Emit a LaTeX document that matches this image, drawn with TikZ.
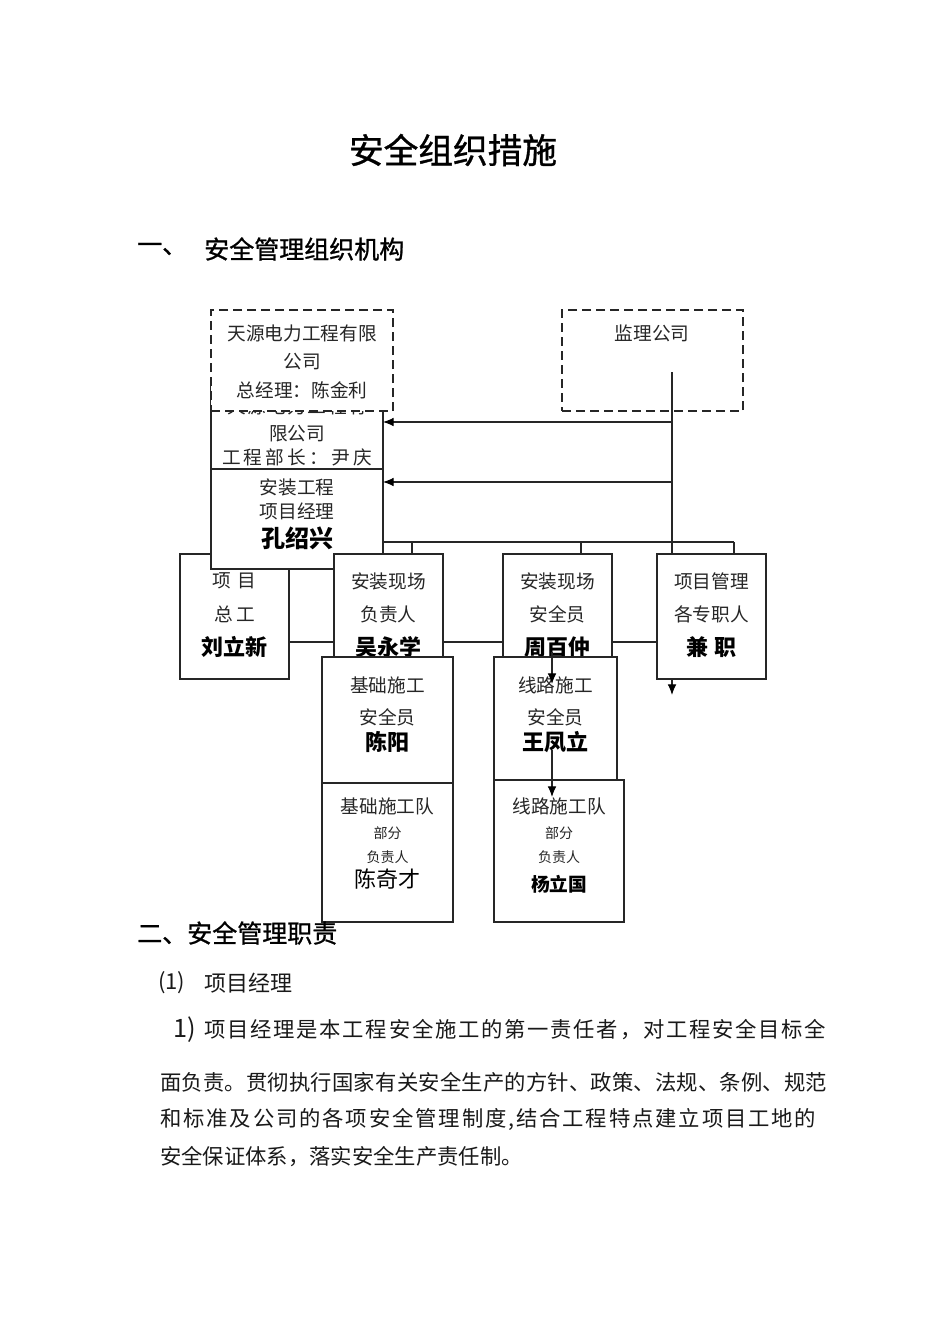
\documentclass[tikz,border=0pt]{standalone}
\usepackage{fontspec}
\usetikzlibrary{arrows.meta}
\IfFontExistsTF{FandolSong-Regular.otf}{\newfontfamily\song{FandolSong-Regular.otf}}{\newfontfamily\song{Noto Sans CJK SC}}
\newfontfamily\hei{Noto Sans CJK SC}
\newfontfamily\heib{Noto Sans CJK SC}[FakeBold=1]
\newcommand\fsz[1]{\fontsize{#1pt}{#1pt}\selectfont}
\newcommand\spread[2]{\makebox[#1][s]{\spreadfirst#2\relax}}
\def\spreadfirst#1{#1\spreadrest}
\def\spreadrest#1{\ifx\relax#1\else\hfil#1\expandafter\spreadrest\fi}
\begin{document}
\begin{tikzpicture}[x=0.75pt,y=-0.75pt,
  box/.style={draw=black!85,line width=0.8pt,fill=white,rectangle,inner sep=0pt,outer sep=0pt,anchor=north west},
  dbox/.style={box,line width=1.1pt,dash pattern=on 7pt off 3.5pt},
  txt/.style={inner sep=0pt,text=black!85,font=\song\fsz{14}},
  sm/.style={inner sep=0pt,text=black!85,font=\song\fsz{10.5}},
  nm/.style={inner sep=0pt,text=black,font=\hei\bfseries\fsz{16.5}},
  ttl/.style={inner sep=0pt,text=black,font=\heib\fsz{26}},
  hd/.style={inner sep=0pt,text=black,font=\heib\fsz{18.75},anchor=west},
  para/.style={inner sep=0pt,text=black!90,font=\song\fsz{16},anchor=west},
  conn/.style={draw=black!85,line width=0.8pt},
  arr/.style={conn,-{Latex[length=8pt,width=6.5pt,black]}}]
\fill[white] (0,0) rectangle (950,1344);
\useasboundingbox (0,0) rectangle (950,1344);

% titles
\node[ttl] (title) at (453,150) {安全组织措施};
\node[hd] (h1a) at (137,249) {一、};
\node[hd] (h1b) at (204,249) {安全管理组织机构};

% supervision company
\node[dbox,minimum width=135.75pt,minimum height=75.75pt] (JL) at (562,310) {};
\node[txt] (JLt) at (652,333) {监理公司};

% project chief engineer box (behind)
\node[box,minimum width=81.75pt,minimum height=93.75pt] (LX) at (180,554) {};

% engineering department box (partly hidden)
\node[box,minimum width=129pt,minimum height=63pt] (B2) at (211,385) {};
\node[txt] (B2a) at (297,406) {\spread{105pt}{天源电力工程有}};
\node[txt] (B2b) at (297,434) {限公司};
\node[txt] (B2c) at (297,457) {\spread{112.5pt}{工程部长：尹庆}};

% company box (dashed)
\node[dbox,minimum width=136.5pt,minimum height=75.75pt] (B1) at (211,310) {};
\node[txt] (B1a) at (302,333) {天源电力工程有限};
\node[txt] (B1b) at (302,362) {公司};
\node[txt] (B1c) at (302,390) {总经理：陈金利};

% project manager
\node[box,minimum width=129pt,minimum height=75pt] (B3) at (211,469) {};
\node[txt] (B3a) at (297,487) {安装工程};
\node[txt] (B3b) at (297,511) {项目经理};
\node[nm,font=\hei\bfseries\fsz{18}] (B3c) at (297,538) {孔绍兴};

% connectors from supervision company
\coordinate (jl0) at (672,372);
\coordinate (jl1) at (672,695);
\coordinate (a1) at (672,422);
\coordinate (a2) at (672,482);
\draw[arr] (a1) -- (a1 -| B2.east);
\draw[arr] (a2) -- (a2 -| B3.east);

% bus from project manager
\coordinate (bus) at (383,542);
\coordinate (bend) at (734,542);
\coordinate (d1) at (412,542);
\coordinate (d2) at (581,542);
\draw[conn] (bus) -- (bend);

% row 3 boxes
\node[box,minimum width=81.75pt,minimum height=93.75pt] (WY) at (334,554) {};
\node[box,minimum width=81.75pt,minimum height=93.75pt] (ZB) at (503,554) {};
\draw[arr] (jl0) -- (jl1);
\node[box,minimum width=81.75pt,minimum height=93.75pt] (XM) at (657,554) {};
\draw[conn] (d1) -- (d1 |- WY.north);
\draw[conn] (d2) -- (d2 |- ZB.north);
\draw[conn] (bend) -- (bend |- XM.north);

\coordinate (hl) at (0,642);
\draw[conn] (LX.east |- hl) -- (WY.west |- hl);
\draw[conn] (WY.east |- hl) -- (ZB.west |- hl);
\draw[conn] (ZB.east |- hl) -- (XM.west |- hl);

\node[txt] (LXa) at (234.5,581) {\spread{33pt}{项目}};
\node[txt] (LXb) at (234.5,614) {\spread{30.75pt}{总工}};
\node[nm] (LXc) at (234.5,647) {刘立新};

\node[txt] (WYa) at (388.5,581) {安装现场};
\node[txt] (WYb) at (388.5,614) {负责人};
\node[nm] (WYc) at (388.5,647) {吴永学};

\node[txt] (ZBa) at (557.5,581) {安装现场};
\node[txt] (ZBb) at (557.5,614) {安全员};
\node[nm] (ZBc) at (557.5,647) {周百仲};

\node[txt] (XMa) at (711.5,581) {项目管理};
\node[txt] (XMb) at (711.5,614) {各专职人};
\node[nm] (XMc) at (711.5,647) {\spread{37.5pt}{兼职}};

% row 4 boxes
\node[box,minimum width=98.25pt,minimum height=94.5pt] (JA) at (322,657) {};
\node[txt] (JAa) at (387.5,685) {基础施工};
\node[txt] (JAb) at (387.5,717) {安全员};
\node[nm] (JAc) at (387.5,742) {陈阳};

\node[box,minimum width=98.25pt,minimum height=104.25pt] (JD) at (322,783) {};
\node[txt] (JDa) at (387.5,806) {基础施工队};
\node[sm] (JDb) at (387.5,833) {部分};
\node[sm] (JDc) at (387.5,857) {负责人};
\node[txt,text=black,font=\song\fsz{16.5}] (JDd) at (387.5,879) {陈奇才};

\node[box,minimum width=92.25pt,minimum height=92.25pt] (XA) at (494,657) {};
\node[txt] (XAa) at (555.5,685) {线路施工};
\node[txt] (XAb) at (555.5,717) {安全员};
\node[nm] (XAc) at (555.5,742) {王凤立};

\node[box,minimum width=97.5pt,minimum height=106.5pt] (XD) at (494,780) {};
\node[txt] (XDa) at (559,806) {线路施工队};
\node[sm] (XDb) at (559,833) {部分};
\node[sm] (XDc) at (559,857) {负责人};
\node[nm,font=\hei\bfseries\fsz{14}] (XDd) at (559,884) {杨立国};

% small arrows
\coordinate (z0) at (552,652);
\coordinate (z1) at (552,684);
\coordinate (w0) at (552,750);
\coordinate (w1) at (552,797);
\draw[arr] (z0) -- (z1);
\draw[arr] (w0) -- (w1);

% section two
\node[hd] (h2) at (137,933) {二、安全管理职责};
\node[para,font=\song\fsz{16.5}] (p0a) at (158,983) {(1)};
\node[para,font=\song\fsz{16.5}] (p0b) at (204,983) {项目经理};
\node[para,font=\song\fsz{19}] (p1a) at (173,1030) {1)};
\node[para] (p1b) at (204,1030) {\spread{466.5pt}{项目经理是本工程安全施工的第一责任者，对工程安全目标全}};
\node[para] (p2) at (160,1082) {\spread{500.25pt}{面负责。贯彻执行国家有关安全生产的方针、政策、法规、条例、规范}};
\node[para] (p3) at (160,1119) {\spread{492pt}{和标准及公司的各项安全管理制度,结合工程特点建立项目工地的}};
\node[para] (p4) at (160,1157) {安全保证体系，落实安全生产责任制。};
\end{tikzpicture}
\end{document}
